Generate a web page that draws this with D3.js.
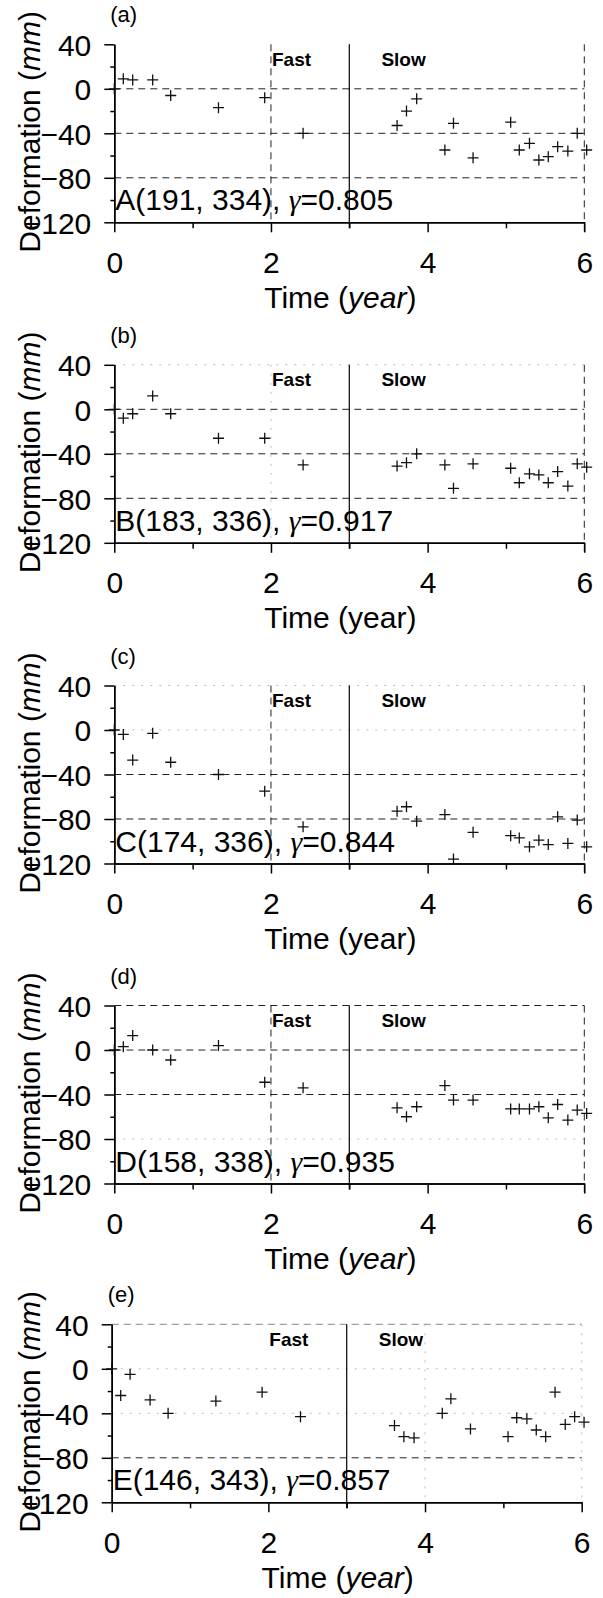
<!DOCTYPE html>
<html>
<head>
<meta charset="utf-8">
<script src="https://cdn.jsdelivr.net/npm/d3@7"></script>
<style>
    body { margin: 0; background: #fff; }
    svg { display: block; font-family: "Liberation Sans", Arial, sans-serif; }
    .axis path, .axis line { stroke: #000; stroke-width: 1.5; }
    .axis text { font-size: 30px; fill: #000; font-family: "Liberation Sans", Arial, sans-serif; }
    .marker { fill: none; stroke: #111; stroke-width: 1.3; }
</style>
</head>
<body>
<script>
//time of each acquisition, same for all five points
var timeYears = [0, 0.115, 0.235, 0.49, 0.72, 1.33, 1.92, 2.41, 3.61, 3.73, 3.86, 4.22, 4.33, 4.58, 5.06, 5.17, 5.30, 5.42, 5.54, 5.66, 5.79, 5.91, 6.03];

//deformation (mm) of each point
var deformA = [0, 9, 8, 8, -6, -17, -8, -40, -33, -20, -9, -55, -31, -62, -30, -55, -49, -64, -61, -52, -56, -40, -55];
var deformB = [0, -8, -4, 12, -4, -26, -26, -50, -51, -48, -40, -50, -71, -49, -53, -66, -58, -59, -66, -56, -69, -49, -52];
var deformC = [0, -4, -27, -3, -29, -40, -55, -87, -73, -69, -82, -76, -116, -92, -95, -97, -105, -99, -103, -78, -102, -81, -105];
var deformD = [0, 3, 13, 0, -9, 4, -29, -34, -52, -60, -51, -32, -45, -45, -53, -53, -53, -51, -61, -49, -63, -54, -57];
var deformE = [0, -24, -5, -28, -40, -29, -21, -43, -51, -61, -62, -40, -27, -54, -61, -44, -45, -55, -61, -21, -50, -43, -48];

var panelLetters = ["(a)", "(b)", "(c)", "(d)", "(e)"];
var pointNames = ["A(191, 334)", "B(183, 336)", "C(174, 336)", "D(158, 338)", "E(146, 343)"];
var gammaValues = ["0.805", "0.917", "0.844", "0.935", "0.857"];
var yearItalic = [true, false, false, true, true];

var yMajorTicks = [40, 0, -40, -80, -120];
var yMinorTicks = [20, -20, -60, -100];
var xMajorTicks = [0, 2, 4, 6];
var xMinorTicks = [1, 3, 5];
var phaseBreak = 3;

(function(){

var allSeries = [deformA, deformB, deformC, deformD, deformE];

//which reference lines came out dashed or faint in the scan
var hLines = [
    [[0, "dash"], [-40, "dash"], [-80, "dash"]],
    [[40, "faint"], [0, "dash"], [-40, "dash"], [-80, "dash"]],
    [[40, "faint"], [0, "faint"], [-40, "dash"], [-80, "dash"]],
    [[40, "dash"], [0, "dash"], [-40, "dash"], [-80, "faint"]],
    [[40, "grey"], [0, "faint"], [-40, "faint"], [-80, "dash"]]
];
var vLines = [
    [[2, "dash"], [6, "dash"]],
    [[2, "faint"], [6, "dash"]],
    [[2, "dash"], [6, "dash"]],
    [[2, "dash"], [6, "dash"]],
    [[4, "faint"], [6, "faint"]]
];
var panelTop = [44.3, 364.8, 685.5, 1005.5, 1324.3];
var panelLeft = [114.3, 114.3, 114.3, 114.3, 111.7];

var width = 603, height = 1598,
    plotW = 470, plotH = 178;

var svg = d3.select("body")
    .append("svg")
    .attr("width", width)
    .attr("height", height);

for (var i = 0; i < allSeries.length; i++){
    drawPanel(i);
}

function lineStyle(sel, kind){
    if (kind === "dash"){
        sel.attr("stroke", "#222").attr("stroke-width", 1).attr("stroke-dasharray", "7,5");
    } else if (kind === "grey"){
        sel.attr("stroke", "#888").attr("stroke-width", 1).attr("stroke-dasharray", "7,5");
    } else {
        sel.attr("stroke", "#bbb").attr("stroke-width", 1).attr("stroke-dasharray", "2,7");
    }
}

function drawPanel(i){
    var top = panelTop[i], left = panelLeft[i];
    var g = svg.append("g").attr("class", "panel");

    var x = d3.scaleLinear().domain([0, 6]).range([left, left + plotW]);
    var y = d3.scaleLinear().domain([-120, 40]).range([top + plotH, top]);

    //horizontal reference lines
    hLines[i].forEach(function(h){
        g.append("line")
            .attr("x1", x(0)).attr("x2", x(6))
            .attr("y1", y(h[0])).attr("y2", y(h[0]))
            .call(lineStyle, h[1]);
    });

    //vertical reference lines
    vLines[i].forEach(function(v){
        g.append("line")
            .attr("x1", x(v[0])).attr("x2", x(v[0]))
            .attr("y1", y(40)).attr("y2", y(-120) + (v[0] === 6 ? 11 : 0))
            .call(lineStyle, v[1]);
    });

    //fast / slow break
    g.append("line")
        .attr("x1", x(phaseBreak)).attr("x2", x(phaseBreak))
        .attr("y1", y(40)).attr("y2", y(-120) + 6)
        .attr("stroke", "#000")
        .attr("stroke-width", 1.2);

    //axes
    g.append("g")
        .attr("class", "axis")
        .attr("transform", "translate(" + left + ",0)")
        .call(d3.axisLeft(y).tickValues(yMajorTicks).tickSize(10).tickSizeOuter(0).tickPadding(13).tickFormat(d3.format("d")))
        .call(function(a){ a.selectAll("text").attr("dy", "0.36em"); });

    g.append("g")
        .attr("class", "axis")
        .attr("transform", "translate(" + left + ",0)")
        .call(d3.axisLeft(y).tickValues(yMinorTicks).tickSize(4).tickSizeOuter(0).tickFormat(""));

    g.append("g")
        .attr("class", "axis")
        .attr("transform", "translate(0," + y(-120) + ")")
        .call(d3.axisBottom(x).tickValues(xMajorTicks).tickSize(10).tickSizeOuter(0).tickPadding(19).tickFormat(d3.format("d")));

    g.append("g")
        .attr("class", "axis")
        .attr("transform", "translate(0," + y(-120) + ")")
        .call(d3.axisBottom(x).tickValues(xMinorTicks).tickSize(6).tickSizeOuter(0).tickFormat(""));

    //markers
    g.selectAll(".marker")
        .data(timeYears)
        .enter()
        .append("path")
        .attr("class", "marker")
        .attr("transform", function(d, k){ return "translate(" + x(d) + "," + y(allSeries[i][k]) + ")"; })
        .attr("d", "M-5.5,0H5.5M0,-5.5V5.5");

    //panel letter
    g.append("text")
        .attr("x", left - 4)
        .attr("y", top - 22)
        .style("font-size", "22px")
        .text(panelLetters[i]);

    g.append("text")
        .attr("x", x(2) + 1)
        .attr("y", top + 21.4)
        .style("font-size", "19px")
        .style("font-weight", "bold")
        .text("Fast");

    g.append("text")
        .attr("x", x(3.41))
        .attr("y", top + 21.4)
        .style("font-size", "19px")
        .style("font-weight", "bold")
        .text("Slow");

    //point name and coherence
    var ann = g.append("text")
        .attr("x", left + 1)
        .attr("y", y(-120) - 12)
        .style("font-size", "30px");
    ann.append("tspan").text(pointNames[i] + ", ");
    ann.append("tspan")
        .style("font-family", "'Liberation Serif', 'DejaVu Serif', serif")
        .style("font-style", "italic")
        .text("\u03b3");
    ann.append("tspan").text("=" + gammaValues[i]);

    //x title
    var xt = g.append("text")
        .attr("x", left + plotW / 2 - 9)
        .attr("y", y(-120) + 85.4)
        .attr("text-anchor", "middle")
        .style("font-size", "30px");
    xt.append("tspan").text("Time (");
    xt.append("tspan").style("font-style", yearItalic[i] ? "italic" : "normal").text("year");
    xt.append("tspan").text(")");

    //y title
    var yt = g.append("text")
        .attr("text-anchor", "middle")
        .attr("transform", "translate(40," + (top + plotH / 2 - 1.5) + ") rotate(-90)")
        .style("font-size", "30px");
    yt.append("tspan").text("Deformation (");
    yt.append("tspan").style("font-style", "italic").text("mm");
    yt.append("tspan").text(")");
}

})();
</script>
</body>
</html>
